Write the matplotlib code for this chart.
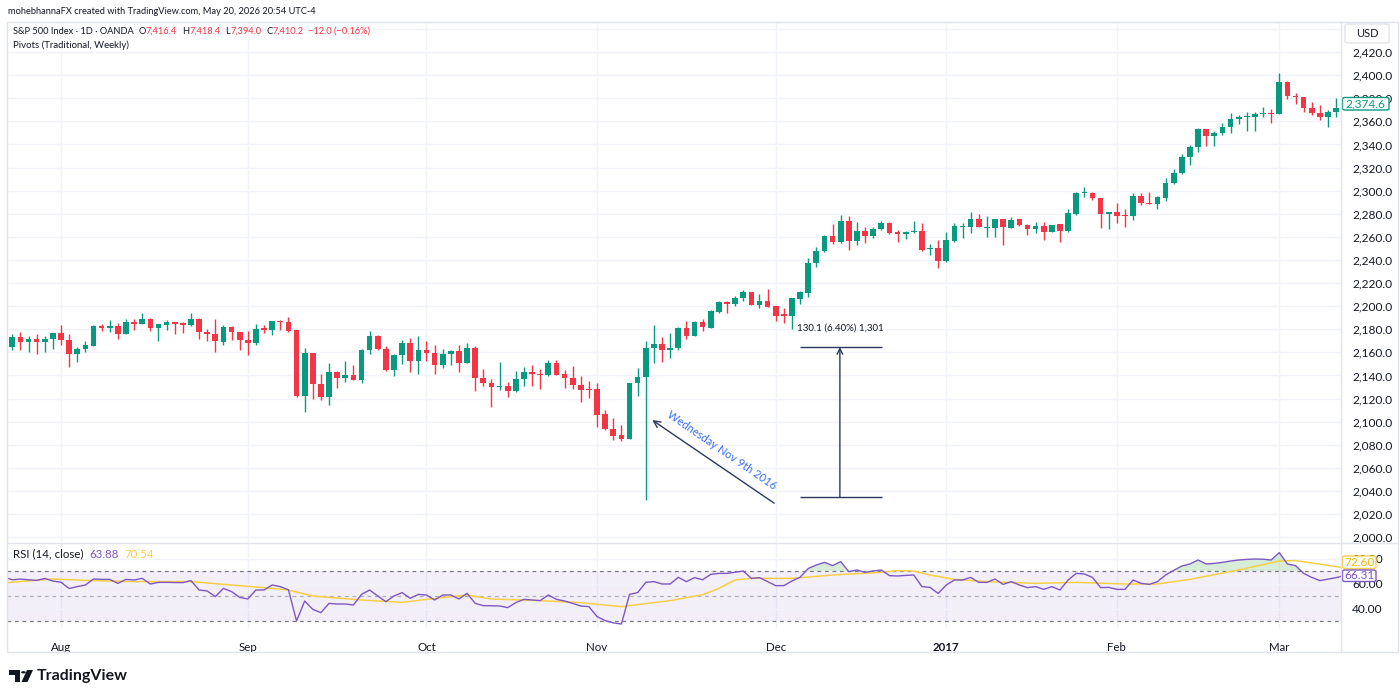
import numpy as np
import pandas as pd
import matplotlib
matplotlib.use("Agg")
import matplotlib.pyplot as plt
from matplotlib.patches import Rectangle, FancyBboxPatch, Polygon, Circle
from matplotlib.lines import Line2D

# daily candles, S&P 500 CFD (OANDA), Jul 22 2016 - Mar 13 2017
dates = pd.bdate_range("2016-07-22", "2017-03-13").drop(
    [pd.Timestamp("2016-12-26"), pd.Timestamp("2017-01-02")])

opens = np.array([
    2164.8, 2173.0, 2169.0, 2171.7, 2169.0, 2171.7, 2177.0, 2171.0, 2158.4, 2163.0,
    2165.7, 2182.7, 2180.7, 2182.7, 2176.0, 2185.9, 2185.0, 2188.7, 2180.7, 2184.0,
    2185.9, 2185.3, 2183.8, 2188.5, 2177.8, 2176.3, 2169.0, 2181.8, 2177.8, 2170.6,
    2167.7, 2181.0, 2179.8, 2187.3, 2185.9, 2179.2, 2122.0, 2159.6, 2133.0, 2121.5,
    2142.9, 2138.2, 2140.0, 2136.0, 2161.9, 2174.6, 2163.0, 2144.6, 2157.9, 2168.5,
    2152.7, 2162.5, 2159.9, 2148.9, 2159.0, 2161.0, 2151.0, 2164.0, 2138.0, 2133.6,
    2130.2, 2130.8, 2126.7, 2136.8, 2142.9, 2141.7, 2140.0, 2150.4, 2141.0, 2138.2,
    2131.6, 2128.0, 2127.9, 2106.5, 2094.0, 2088.3, 2085.1, 2133.6, 2138.8, 2163.9,
    2167.4, 2162.5, 2163.6, 2181.5, 2174.3, 2185.9, 2181.5, 2195.1, 2203.3, 2201.9,
    2206.8, 2212.3, 2200.7, 2204.5, 2200.1, 2193.2, 2191.5, 2205.9, 2211.6, 2237.0,
    2247.7, 2261.0, 2255.8, 2273.7, 2256.7, 2265.0, 2260.7, 2266.5, 2272.3, 2263.9,
    2262.5, 2263.9, 2265.0, 2249.2, 2250.6, 2239.1, 2256.7, 2268.8, 2268.8, 2275.1,
    2268.0, 2267.9, 2275.4, 2267.9, 2275.1, 2270.2, 2266.5, 2269.7, 2264.5, 2270.8,
    2265.3, 2279.5, 2298.2, 2298.2, 2293.3, 2279.5, 2281.2, 2279.2, 2278.3, 2295.3,
    2289.5, 2288.4, 2293.3, 2306.3, 2315.0, 2328.8, 2337.5, 2353.1, 2347.3, 2350.2,
    2354.8, 2362.0, 2363.4, 2364.0, 2366.0, 2366.9, 2366.0, 2393.7, 2382.2, 2381.3,
    2371.8, 2367.5, 2363.4, 2367.8, 2371.2])
highs = np.array([
    2175.5, 2178.0, 2174.0, 2175.5, 2174.6, 2177.2, 2183.5, 2176.3, 2164.8, 2169.7,
    2183.3, 2185.0, 2187.9, 2185.6, 2189.3, 2189.3, 2194.5, 2190.0, 2185.0, 2187.9,
    2186.4, 2186.4, 2194.5, 2190.0, 2180.0, 2189.3, 2184.0, 2182.7, 2177.8, 2178.4,
    2185.0, 2183.5, 2187.3, 2187.9, 2190.8, 2179.2, 2163.9, 2159.6, 2141.0, 2150.9,
    2144.0, 2152.7, 2149.5, 2163.3, 2178.4, 2175.2, 2165.4, 2159.0, 2171.1, 2172.6,
    2174.0, 2169.7, 2166.2, 2163.3, 2162.5, 2166.8, 2168.5, 2165.7, 2145.5, 2136.8,
    2151.8, 2134.5, 2144.0, 2147.5, 2148.9, 2145.2, 2153.2, 2153.2, 2144.6, 2148.0,
    2139.4, 2135.0, 2133.6, 2110.5, 2103.1, 2097.4, 2133.6, 2146.6, 2169.7, 2184.1,
    2173.4, 2177.2, 2182.1, 2186.9, 2187.0, 2189.3, 2196.5, 2204.3, 2204.5, 2208.8,
    2214.0, 2212.3, 2210.5, 2214.8, 2200.1, 2198.7, 2206.8, 2213.0, 2241.4, 2251.5,
    2261.6, 2270.8, 2278.9, 2278.0, 2272.6, 2268.8, 2268.8, 2274.0, 2273.1, 2265.9,
    2265.0, 2273.7, 2272.3, 2253.5, 2257.3, 2263.9, 2271.7, 2272.3, 2281.2, 2279.5,
    2278.3, 2275.4, 2275.4, 2276.9, 2275.1, 2270.8, 2272.6, 2273.1, 2270.2, 2270.8,
    2284.1, 2299.1, 2303.4, 2299.1, 2293.3, 2281.2, 2289.0, 2283.8, 2297.6, 2297.9,
    2299.0, 2295.3, 2310.6, 2318.4, 2331.4, 2339.5, 2353.9, 2353.1, 2351.9, 2358.2,
    2366.9, 2365.4, 2368.3, 2368.3, 2372.1, 2370.4, 2401.5, 2395.1, 2384.2, 2381.3,
    2377.0, 2374.1, 2369.8, 2379.9, 2376.0])
lows = np.array([
    2162.5, 2162.5, 2160.0, 2159.0, 2160.0, 2163.3, 2166.0, 2147.5, 2151.8, 2160.5,
    2165.7, 2178.6, 2177.8, 2172.0, 2175.5, 2179.0, 2185.0, 2178.6, 2169.7, 2179.2,
    2176.3, 2176.9, 2183.0, 2171.4, 2170.0, 2160.5, 2166.8, 2171.0, 2161.9, 2157.6,
    2166.8, 2177.2, 2174.9, 2179.8, 2177.8, 2121.5, 2108.5, 2120.0, 2118.6, 2114.3,
    2129.3, 2134.5, 2136.0, 2133.6, 2159.0, 2162.5, 2143.7, 2139.7, 2150.0, 2143.2,
    2141.7, 2152.7, 2141.7, 2146.6, 2148.9, 2143.2, 2151.0, 2126.8, 2131.0, 2112.8,
    2127.3, 2121.5, 2125.3, 2131.0, 2131.0, 2127.9, 2139.4, 2140.3, 2129.3, 2127.9,
    2116.9, 2120.4, 2095.5, 2092.6, 2084.5, 2083.4, 2085.1, 2122.3, 2032.0, 2151.2,
    2151.5, 2155.3, 2162.2, 2172.0, 2174.3, 2178.6, 2180.7, 2194.2, 2193.8, 2200.1,
    2204.8, 2200.7, 2198.1, 2199.6, 2187.4, 2185.1, 2180.2, 2201.5, 2208.2, 2233.6,
    2247.2, 2253.5, 2254.4, 2248.6, 2252.9, 2255.0, 2259.3, 2265.9, 2262.5, 2255.8,
    2258.0, 2263.0, 2248.0, 2244.3, 2233.3, 2238.5, 2255.8, 2258.7, 2263.0, 2268.2,
    2260.1, 2260.1, 2252.9, 2267.9, 2269.7, 2261.6, 2263.0, 2257.3, 2263.9, 2255.8,
    2264.5, 2278.9, 2294.2, 2291.9, 2267.3, 2266.5, 2272.2, 2268.8, 2274.5, 2288.0,
    2288.4, 2284.0, 2291.3, 2305.7, 2314.4, 2322.2, 2333.7, 2338.6, 2338.6, 2348.0,
    2350.2, 2357.7, 2351.6, 2351.9, 2364.0, 2358.8, 2366.0, 2379.3, 2375.0, 2368.3,
    2365.4, 2361.1, 2355.4, 2363.4, 2369.0])
closes = np.array([
    2172.9, 2169.0, 2172.0, 2169.0, 2171.7, 2177.2, 2170.6, 2158.4, 2163.3, 2166.0,
    2182.7, 2180.7, 2182.7, 2176.3, 2185.9, 2184.7, 2188.7, 2180.7, 2184.4, 2185.9,
    2184.7, 2184.1, 2188.5, 2177.8, 2176.3, 2169.7, 2181.8, 2177.8, 2170.6, 2167.7,
    2180.4, 2179.8, 2187.3, 2185.9, 2178.6, 2122.0, 2159.6, 2132.5, 2121.5, 2142.9,
    2138.2, 2140.0, 2136.0, 2161.9, 2174.6, 2162.8, 2144.6, 2157.9, 2168.5, 2152.7,
    2162.5, 2159.6, 2148.9, 2159.0, 2161.3, 2151.0, 2164.0, 2138.0, 2133.6, 2130.2,
    2131.3, 2126.7, 2136.8, 2142.9, 2141.4, 2140.0, 2150.4, 2140.3, 2138.2, 2131.6,
    2127.3, 2127.3, 2106.2, 2093.8, 2087.7, 2085.1, 2133.6, 2138.8, 2163.9, 2167.1,
    2162.5, 2163.9, 2181.5, 2174.3, 2186.4, 2182.1, 2195.7, 2203.8, 2201.9, 2206.8,
    2212.3, 2200.7, 2204.5, 2199.6, 2191.8, 2191.8, 2206.8, 2212.5, 2237.0, 2247.7,
    2261.0, 2255.8, 2274.0, 2256.7, 2265.0, 2260.7, 2266.5, 2272.3, 2263.0, 2262.5,
    2264.5, 2265.0, 2248.6, 2250.6, 2239.1, 2257.3, 2269.4, 2269.7, 2275.1, 2268.2,
    2268.8, 2275.4, 2268.2, 2274.6, 2270.2, 2266.5, 2269.7, 2264.5, 2270.2, 2265.3,
    2280.3, 2298.2, 2298.7, 2293.3, 2279.5, 2281.2, 2278.3, 2278.3, 2295.3, 2289.5,
    2288.4, 2294.2, 2306.3, 2315.0, 2328.8, 2337.5, 2353.1, 2347.3, 2350.2, 2354.8,
    2362.0, 2363.4, 2364.6, 2366.3, 2366.9, 2366.0, 2393.7, 2381.9, 2380.8, 2371.8,
    2366.9, 2364.0, 2367.8, 2371.2, 2374.6])

# RSI(14) per bar, starting one bar left of the first visible candle
rsi = np.array([
    65.0, 63.0, 63.5, 63.0, 62.5, 64.0, 62.0, 61.0, 56.0, 57.5, 58.8,
    63.6, 63.3, 63.3, 60.1, 63.3, 62.8, 64.1, 59.6, 60.9, 60.9,
    60.8, 60.7, 62.3, 54.8, 54.0, 49.5, 56.1, 53.5, 48.9, 47.6,
    54.8, 54.8, 58.8, 57.5, 55.0, 30.0, 46.0, 39.3, 36.7, 44.1,
    43.6, 43.6, 42.8, 51.3, 54.8, 50.0, 45.5, 50.0, 52.7, 48.1,
    51.3, 50.8, 46.8, 50.8, 50.8, 47.6, 52.1, 44.1, 42.3, 42.2,
    42.0, 40.7, 44.7, 47.3, 46.8, 46.3, 50.8, 47.3, 46.0, 44.1,
    42.0, 41.5, 33.5, 30.3, 28.5, 27.6, 51.3, 52.7, 60.9, 61.5,
    59.6, 59.6, 64.9, 61.5, 64.7, 63.0, 67.3, 68.1, 68.1, 69.0,
    70.0, 64.1, 64.7, 61.5, 58.3, 58.3, 62.0, 65.0, 72.0, 74.8,
    76.9, 74.3, 77.5, 69.5, 70.8, 68.9, 70.0, 70.8, 66.3, 66.0,
    66.5, 66.8, 57.5, 56.9, 52.1, 58.8, 62.8, 62.8, 64.9, 60.9,
    60.9, 63.6, 59.3, 61.5, 58.8, 56.7, 57.5, 55.3, 57.5, 54.8,
    62.8, 68.1, 67.6, 64.9, 56.7, 56.9, 55.3, 55.3, 62.8, 60.1,
    59.3, 61.5, 66.8, 70.5, 74.0, 75.6, 78.8, 75.6, 76.1, 76.9,
    78.0, 78.8, 79.3, 79.6, 79.4, 78.8, 84.7, 75.6, 74.3, 68.1,
    64.9, 62.3, 63.5, 64.7, 66.31])

# RSI-based moving average, read at a few bars
ma_bars = [-1, 5, 10, 15, 22, 27, 32, 34, 37, 43, 48, 51, 56, 59, 65, 70, 75, 81,
           85, 87, 89, 91, 96, 101, 107, 109, 111, 113, 116, 120, 126, 131, 137,
           141, 145, 151, 156, 158, 164]
ma_vals = [60.5, 63.6, 62.3, 61.5, 61.5, 58.8, 56.1, 54.8, 50.0, 46.8, 44.9, 47.3,
           50.8, 47.6, 46.3, 44.7, 41.5, 46.3, 51.0, 56.1, 62.8, 64.1, 64.1, 66.8,
           68.9, 70.3, 70.0, 66.8, 63.3, 61.5, 60.1, 60.9, 59.6, 59.6, 63.3, 70.8,
           78.0, 78.3, 72.6]

price_ticks = list(range(2000, 2421, 20))
rsi_ticks = [40, 60, 80]

GREEN = "#089981"
RED = "#f23645"
PURPLE = "#7e57c2"
YELLOW = "#f7cf47"
TXT = "#131722"
GRID = "#f0f3fa"
BORDER = "#e0e3eb"
NAVY = "#2a3a5c"

W, H = 1400, 699
plt.rcParams["font.family"] = ["Lato", "DejaVu Sans"]
fig = plt.figure(figsize=(W / 100, H / 100), dpi=100)


def fx(x):
    return x / W


def fy(y):
    return 1 - y / H


ax = fig.add_axes([fx(7), fy(543), (1341 - 7) / W, (543 - 22) / H])
rax = fig.add_axes([fx(7), fy(628), (1341 - 7) / W, (628 - 543) / H])

x = np.arange(len(closes))
month_idx = [i for i in range(1, len(dates)) if dates[i].month != dates[i - 1].month]
month_lab = [str(dates[i].year) if dates[i].month == 1 else dates[i].strftime("%b") for i in month_idx]

# candles
up = closes >= opens
cols = np.where(up, GREEN, RED)
ax.vlines(x, lows, highs, colors=cols, lw=1, zorder=3)
bottom = np.minimum(opens, closes)
height = np.maximum(np.abs(closes - opens), 0.9)
ax.bar(x, height, bottom=bottom, width=0.7, color=cols, linewidth=0, zorder=4)

for a in (ax, rax):
    a.set_xlim(-0.65, 163.6)
    for s in a.spines.values():
        s.set_visible(False)
    for m in month_idx:
        a.axvline(m, color=GRID, lw=1, zorder=0)

ax.set_ylim(1995, 2446)
for p in price_ticks + [2440]:
    ax.axhline(p, color=GRID, lw=1, zorder=0)
ax.yaxis.tick_right()
ax.set_yticks(price_ticks)
ax.set_yticklabels([f"{p:,.1f}" for p in price_ticks])
ax.tick_params(axis="y", length=0, pad=8, labelsize=8.6, labelcolor=TXT)
ax.set_xticks([])

# annotations: arrow to the Nov 9 wick
ax.annotate("", xy=(78.8, 2101.4), xytext=(93.8, 2029.5),
            arrowprops=dict(arrowstyle="->", color=NAVY, lw=1, shrinkA=0, shrinkB=0,
                            mutation_scale=12), zorder=6)
ax.text(87.4, 2075.5, "Wednesday Nov 9th 2016", color="#3b6cf4", fontsize=8,
        rotation=-34.5, rotation_mode="anchor", ha="center", va="center", zorder=6)

# price range tool
top_p, bot_p = 2164.6, 2034.5
ax.hlines([top_p, bot_p], 97.0, 107.1, color=NAVY, lw=1, zorder=6)
ax.annotate("", xy=(101.9, top_p), xytext=(101.9, bot_p),
            arrowprops=dict(arrowstyle="->", color=NAVY, lw=1, shrinkA=0, shrinkB=0,
                            mutation_scale=10), zorder=6)
ax.text(102.0, 2181.0, f"{top_p - bot_p:.1f} (6.40%) 1,301", color=TXT, fontsize=7,
        ha="center", va="center", zorder=6)

# RSI pane
ridx = np.arange(-1, len(rsi) - 1)
rax.set_ylim(24.4, 92.4)
rax.axhspan(30, 70, color=PURPLE, alpha=0.09, lw=0, zorder=0)
for r in rsi_ticks:
    rax.axhline(r, color=GRID, lw=1, zorder=0)
for lvl, al in ((70, 1.0), (50, 0.55), (30, 1.0)):
    rax.axhline(lvl, color="#787b86", lw=0.9, ls=(0, (3, 3)), alpha=al, zorder=1)
rax.fill_between(ridx, 70, rsi, where=rsi > 70, interpolate=True,
                 color="#4caf50", alpha=0.22, lw=0, zorder=2)
rax.plot(ma_bars, ma_vals, color=YELLOW, lw=1.1, zorder=3)
rax.plot(ridx, rsi, color=PURPLE, lw=1.0, zorder=4)
rax.yaxis.tick_right()
rax.set_yticks(rsi_ticks)
rax.set_yticklabels([f"{r:.2f}" for r in rsi_ticks])
rax.tick_params(axis="y", length=0, pad=8, labelsize=8.6, labelcolor=TXT)
rax.set_xticks(month_idx)
rax.set_xticklabels(month_lab)
rax.tick_params(axis="x", length=0, pad=10, labelsize=8.3, labelcolor=TXT)
for t in rax.get_xticklabels():
    if t.get_text().isdigit():
        t.set_fontweight("bold")

# frame
fig.add_artist(Rectangle((fx(7), fy(652)), (1398 - 7) / W, (652 - 22) / H,
                         transform=fig.transFigure, fill=False, ec=BORDER, lw=1))
fig.add_artist(Line2D([fx(7), fx(1398)], [fy(543), fy(543)], color=BORDER, lw=1))
fig.add_artist(Line2D([fx(1341), fx(1341)], [fy(22), fy(652)], color=BORDER, lw=1))


# value tags on the right axis
def tag(x0, y0, x1, y1, text, color, tcolor=None, size=8.6):
    fig.add_artist(FancyBboxPatch((fx(x0), fy(y1)), (x1 - x0) / W, (y1 - y0) / H,
                                  boxstyle="round,pad=0,rounding_size=0.002",
                                  transform=fig.transFigure, fc="white", ec=color, lw=1))
    fig.text(fx((x0 + x1) / 2), fy((y0 + y1) / 2), text, color=tcolor or color,
             fontsize=size, ha="center", va="center")


tag(1345, 24, 1389, 43, "USD", BORDER, TXT, 8)
tag(1342.5, 97.5, 1389, 110, f"{closes[-1]:,.1f}", GREEN)
tag(1342.5, 556, 1376, 568.5, f"{ma_vals[-1]:.2f}", YELLOW, "#f0b90b")
tag(1342.5, 570, 1376, 581.5, f"{rsi[-1]:.2f}", PURPLE)

# header texts
renderer = fig.canvas.get_renderer()


def rich(x0, y0, parts, size):
    for s, c, gap in parts:
        t = fig.text(fx(x0), fy(y0), s, color=c, fontsize=size, ha="left", va="center")
        x0 += t.get_window_extent(renderer).width + gap


fig.text(fx(8), fy(11), "mohebhannaFX created with TradingView.com, May 20, 2026 20:54 UTC-4",
         color=TXT, fontsize=6.7, va="center")
rich(13, 31, [("S&P 500 Index · 1D · OANDA", TXT, 5), ("O", TXT, 0), ("7,416.4", RED, 5),
              ("H", TXT, 0), ("7,418.4", RED, 5), ("L", TXT, 0), ("7,394.0", RED, 5),
              ("C", TXT, 0), ("7,410.2", RED, 5), ("\u221212.0 (\u22120.16%)", RED, 0)], 6.7)
fig.text(fx(13), fy(45), "Pivots (Traditional, Weekly)", color=TXT, fontsize=6.9, va="center")
rich(13, 554, [("RSI (14, close)", TXT, 6), ("63.88", PURPLE, 6), ("70.54", YELLOW, 0)], 8.3)


# TradingView logo
def px_poly(pts, **kw):
    fig.add_artist(Polygon([(fx(a), fy(b)) for a, b in pts], closed=True,
                           transform=fig.transFigure, **kw))


px_poly([(9, 670), (20, 670), (20, 682), (15, 682), (15, 674.5), (9, 674.5)], fc=TXT, ec="none")
fig.add_artist(Circle((fx(23.5), fy(672.3)), 2.3 / W, transform=fig.transFigure, fc=TXT, ec="none"))
px_poly([(27, 670), (33, 670), (27.5, 682), (21.5, 682)], fc=TXT, ec="none")
fig.text(fx(37), fy(676), "TradingView", color=TXT, fontsize=11.5, fontweight="bold",
         ha="left", va="center")

fig.savefig("out.png", dpi=100, facecolor="white")
